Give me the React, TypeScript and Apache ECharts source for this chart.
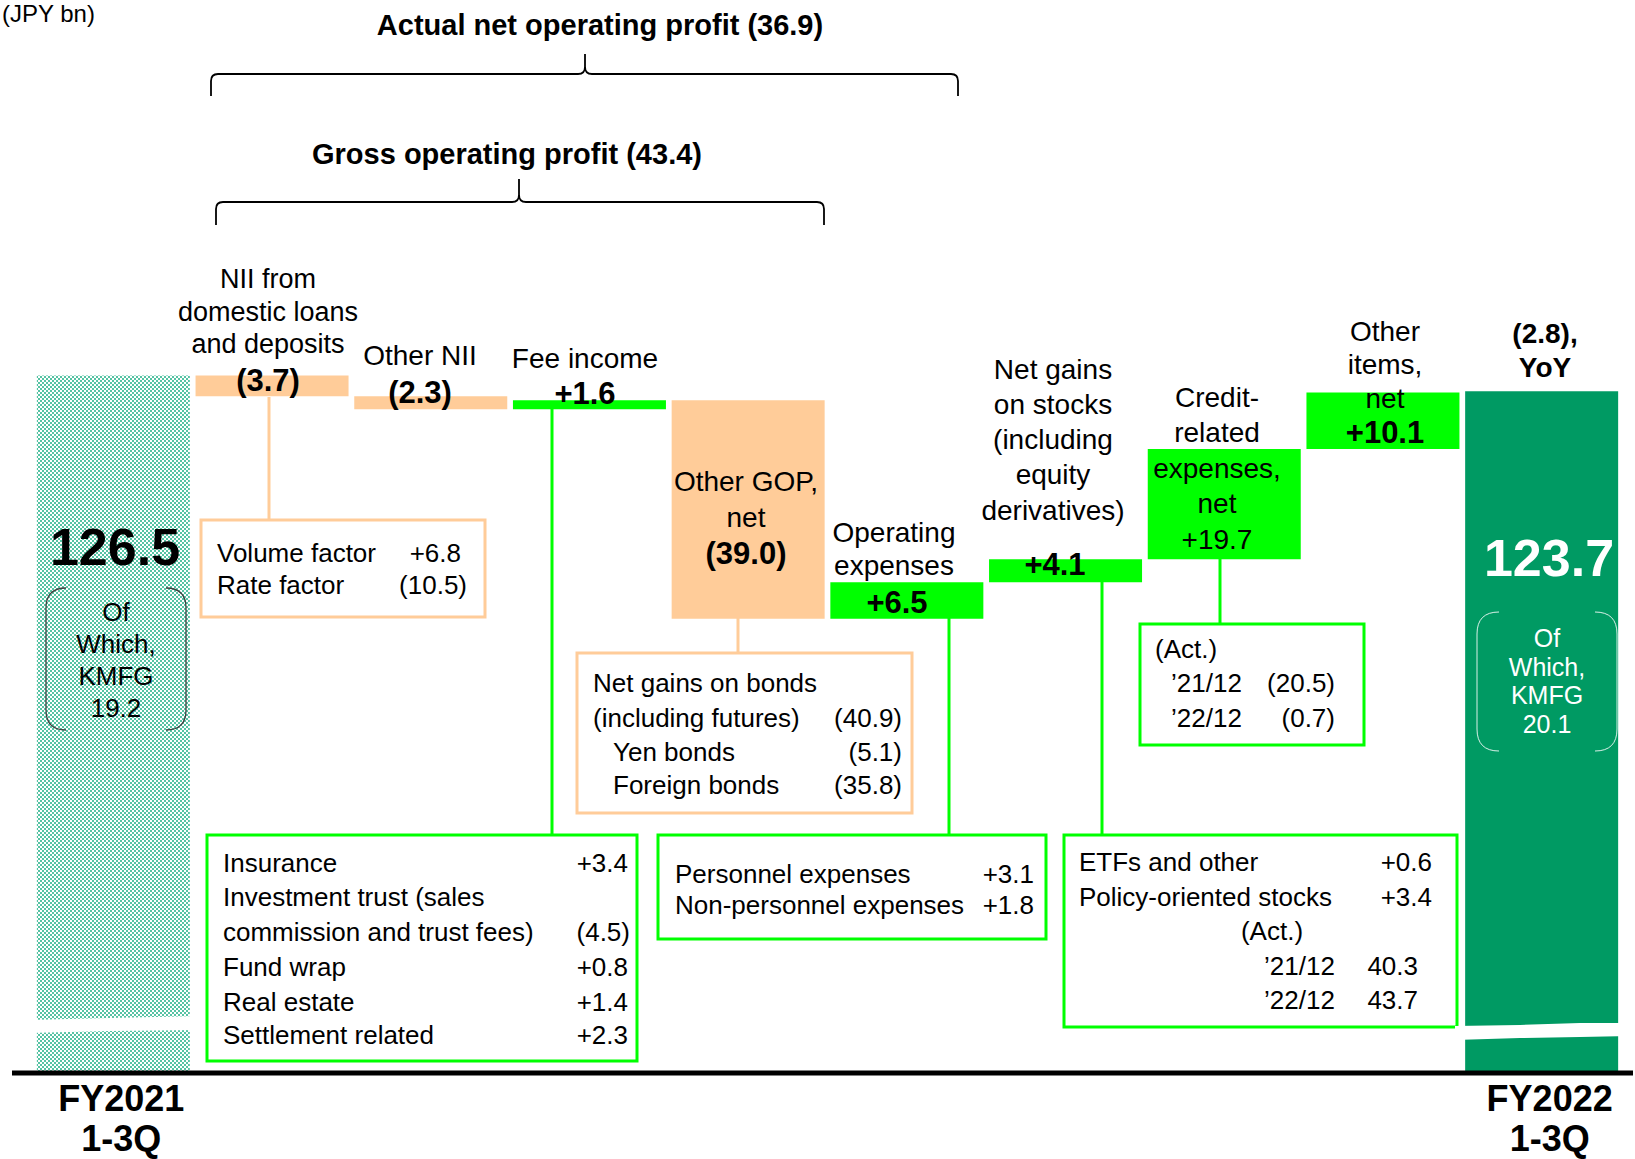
import React, { useEffect, useRef } from 'react';
import * as echarts from 'echarts';

const categories = [
  'FY2021 1-3Q',
  'NII from domestic loans and deposits',
  'Other NII',
  'Fee income',
  'Other GOP, net',
  'Operating expenses',
  'Net gains on stocks (including equity derivatives)',
  'Credit-related expenses, net',
  'Other items, net',
  'FY2022 1-3Q',
];
const startValue = 126.5;
const endValue = 123.7;
const changes = [-3.7, -2.3, 1.6, -39.0, 6.5, 4.1, 19.7, 10.1];
const tickLabels = ['FY2021\n1-3Q', '', '', '', '', '', '', '', '', 'FY2022\n1-3Q'];

const FONT = '"Liberation Sans", Arial, Helvetica, sans-serif';
const PEACH = '#FFCC99';
const GREEN = '#00FF00';
const DARK = '#009A63';

function T(text: string, x: number, y: number, o: any = {}) {
  const { size = 26, weight = 'normal', color = '#000', align = 'left', lh } = o;
  return {
    type: 'text',
    x,
    y,
    z: 100,
    silent: true,
    style: {
      text,
      fontSize: size,
      fontWeight: weight,
      fontFamily: FONT,
      fill: color,
      align,
      verticalAlign: 'middle',
      textAlign: align,
      textVerticalAlign: 'middle',
      lineHeight: lh ?? Math.round(size * 1.2),
    },
  };
}
function L(x1: number, y1: number, x2: number, y2: number, stroke: string, w = 3) {
  return { type: 'line', z: 90, silent: true, shape: { x1, y1, x2, y2 }, style: { stroke, lineWidth: w } };
}
function Q(x1: number, y1: number, cx: number, cy: number, x2: number, y2: number, stroke: string, w = 2) {
  return {
    type: 'bezierCurve',
    z: 90,
    silent: true,
    shape: { x1, y1, x2, y2, cpx1: cx, cpy1: cy },
    style: { stroke, lineWidth: w, fill: 'none' },
  };
}
function R(x: number, y: number, width: number, height: number, stroke: string) {
  return {
    type: 'rect',
    z: 90,
    silent: true,
    shape: { x, y, width, height },
    style: { stroke, lineWidth: 3, fill: 'none' },
  };
}
function brace(xL: number, xR: number, xC: number, yLine: number, yEnd: number, yPeak: number) {
  const r = 7;
  const s = '#000';
  return [
    L(xL, yEnd, xL, yLine + r, s, 1.8),
    Q(xL, yLine + r, xL, yLine, xL + r, yLine, s, 1.8),
    L(xL + r, yLine, xC - r, yLine, s, 1.8),
    Q(xC - r, yLine, xC, yLine, xC, yLine - r, s, 1.8),
    Q(xC + r, yLine, xC, yLine, xC, yLine - r, s, 1.8),
    L(xC, yLine - r, xC, yPeak, s, 1.8),
    L(xC + r, yLine, xR - r, yLine, s, 1.8),
    Q(xR - r, yLine, xR, yLine, xR, yLine + r, s, 1.8),
    L(xR, yLine + r, xR, yEnd, s, 1.8),
  ];
}
function dbracket(x0: number, y0: number, x1: number, y1: number, r: number, s: string, w = 1.3) {
  return [
    Q(x0 + r, y0, x0, y0, x0, y0 + r, s, w),
    L(x0, y0 + r, x0, y1 - r, s, w),
    Q(x0, y1 - r, x0, y1, x0 + r, y1, s, w),
    Q(x1 - r, y0, x1, y0, x1, y0 + r, s, w),
    L(x1, y0 + r, x1, y1 - r, s, w),
    Q(x1, y1 - r, x1, y1, x1 - r, y1, s, w),
  ];
}

export default function App() {
  const ref = useRef<HTMLDivElement>(null);
  useEffect(() => {
    if (!ref.current) return;
    const chart = echarts.init(ref.current, null, { renderer: 'svg' });

    const cv = document.createElement('canvas');
    cv.width = 4;
    cv.height = 4;
    const ctx = cv.getContext('2d')!;
    ctx.fillStyle = '#ffffff';
    ctx.fillRect(0, 0, 4, 4);
    ctx.fillStyle = '#55C3A3';
    ctx.fillRect(0, 0, 2, 2);
    ctx.fillRect(2, 2, 2, 2);
    const pattern: any = { image: cv, repeat: 'repeat', imageWidth: 4, imageHeight: 4 };

    const base: number[] = [0];
    const heights: any[] = [{ value: startValue, itemStyle: { color: pattern } }];
    let run = startValue;
    changes.forEach((c) => {
      const next = run + c;
      base.push(+Math.min(run, next).toFixed(2));
      heights.push({ value: Math.abs(c), itemStyle: { color: c < 0 ? PEACH : GREEN } });
      run = next;
    });
    base.push(0);
    heights.push({ value: endValue, itemStyle: { color: DARK } });

    const graphic: any[] = [
      T('(JPY bn)', 2, 13, { size: 24, align: 'left' }),
      T('Actual net operating profit (36.9)', 600, 25, { size: 29, weight: 'bold', align: 'center' }),
      ...brace(211, 958, 585, 74, 96, 54),
      T('Gross operating profit (43.4)', 507, 154, { size: 29, weight: 'bold', align: 'center' }),
      ...brace(216, 824, 519, 202, 225, 179),

      // bar labels
      T('NII from\ndomestic loans\nand deposits', 268, 311.5, { size: 27, align: 'center', lh: 32.5 }),
      T('(3.7)', 268, 380, { size: 31, weight: 'bold', align: 'center' }),
      T('Other NII', 420, 355, { size: 28, align: 'center' }),
      T('(2.3)', 420, 392, { size: 31, weight: 'bold', align: 'center' }),
      T('Fee income', 585, 358, { size: 28, align: 'center' }),
      T('+1.6', 585, 393, { size: 31, weight: 'bold', align: 'center' }),
      T('Other GOP,\nnet', 746, 499, { size: 28, align: 'center', lh: 36 }),
      T('(39.0)', 746, 553, { size: 31, weight: 'bold', align: 'center' }),
      T('Operating\nexpenses', 894, 548.5, { size: 28, align: 'center', lh: 33 }),
      T('+6.5', 897, 602, { size: 31, weight: 'bold', align: 'center' }),
      T('Net gains\non stocks\n(including\nequity\nderivatives)', 1053, 439.5, { size: 28, align: 'center', lh: 35.25 }),
      T('+4.1', 1055, 564, { size: 31, weight: 'bold', align: 'center' }),
      T('Credit-\nrelated\nexpenses,\nnet\n+19.7', 1217, 468, { size: 28, align: 'center', lh: 35.5 }),
      T('Other\nitems,\nnet', 1385, 364.5, { size: 28, align: 'center', lh: 33.5 }),
      T('+10.1', 1385, 432, { size: 31, weight: 'bold', align: 'center' }),
      T('(2.8),\nYoY', 1545, 350, { size: 28, weight: 'bold', align: 'center', lh: 34 }),

      // totals
      T('126.5', 115, 547, { size: 52, weight: 'bold', align: 'center' }),
      ...dbracket(46, 588, 186, 730, 20, '#404040'),
      T('Of\nWhich,\nKMFG\n19.2', 116, 660, { size: 26, align: 'center', lh: 31.7 }),
      T('123.7', 1549, 558, { size: 52, weight: 'bold', align: 'center', color: '#fff' }),
      ...dbracket(1477, 612, 1617, 751, 22, 'rgba(255,255,255,0.85)', 1),
      T('Of\nWhich,\nKMFG\n20.1', 1547, 681, { size: 25, align: 'center', lh: 28.5, color: '#fff' }),

      // connectors
      L(269, 397, 269, 520, PEACH),
      L(552, 408, 552, 835, GREEN),
      L(738, 618, 738, 653, PEACH),
      L(949, 618, 949, 835, GREEN),
      L(1102, 580, 1102, 835, GREEN),
      L(1220, 558, 1220, 624, GREEN),

      // box A
      R(201, 520, 284, 97, PEACH),
      T('Volume factor', 217, 553),
      T('+6.8', 461, 553, { align: 'right' }),
      T('Rate factor', 217, 585),
      T('(10.5)', 467, 585, { align: 'right' }),

      // box B
      R(577, 653, 335, 160, PEACH),
      T('Net gains on bonds', 593, 683),
      T('(including futures)', 593, 718),
      T('(40.9)', 902, 718, { align: 'right' }),
      T('Yen bonds', 613, 752),
      T('(5.1)', 902, 752, { align: 'right' }),
      T('Foreign bonds', 613, 785),
      T('(35.8)', 902, 785, { align: 'right' }),

      // box C
      R(207, 835, 430, 226, GREEN),
      T('Insurance', 223, 863),
      T('+3.4', 628, 863, { align: 'right' }),
      T('Investment trust (sales', 223, 897),
      T('commission and trust fees)', 223, 932),
      T('(4.5)', 630, 932, { align: 'right' }),
      T('Fund wrap', 223, 967),
      T('+0.8', 628, 967, { align: 'right' }),
      T('Real estate', 223, 1002),
      T('+1.4', 628, 1002, { align: 'right' }),
      T('Settlement related', 223, 1035),
      T('+2.3', 628, 1035, { align: 'right' }),

      // box D
      R(658, 835, 388, 104, GREEN),
      T('Personnel expenses', 675, 874),
      T('+3.1', 1034, 874, { align: 'right' }),
      T('Non-personnel expenses', 675, 905),
      T('+1.8', 1034, 905, { align: 'right' }),

      // box E
      R(1064, 835, 393, 192, GREEN),
      T('ETFs and other', 1079, 862),
      T('+0.6', 1432, 862, { align: 'right' }),
      T('Policy-oriented stocks', 1079, 897),
      T('+3.4', 1432, 897, { align: 'right' }),
      T('(Act.)', 1272, 931, { align: 'center' }),
      T('\u201921/12', 1264, 966),
      T('40.3', 1418, 966, { align: 'right' }),
      T('\u201922/12', 1264, 1000),
      T('43.7', 1418, 1000, { align: 'right' }),

      // box F
      R(1140, 624, 224, 121, GREEN),
      T('(Act.)', 1155, 649),
      T('\u201921/12', 1171, 683),
      T('(20.5)', 1335, 683, { align: 'right' }),
      T('\u201922/12', 1171, 718),
      T('(0.7)', 1335, 718, { align: 'right' }),

      // breaks
      {
        type: 'polygon',
        z: 95,
        silent: true,
        shape: { points: [[28, 1020], [110, 1018], [200, 1016], [200, 1030], [110, 1031], [28, 1033]] },
        style: { fill: '#ffffff' },
      },
      {
        type: 'polygon',
        z: 95,
        silent: true,
        shape: { points: [[1455, 1026], [1520, 1025], [1580, 1023], [1630, 1023], [1630, 1036], [1580, 1037], [1520, 1038], [1455, 1040]] },
        style: { fill: '#ffffff' },
      },
      L(12, 1073, 1633, 1073, '#000', 5),
    ];

    const option: any = {
      animation: false,
      backgroundColor: '#ffffff',
      grid: { left: 34, right: 14, top: 356, bottom: 86, containLabel: false, outerBoundsMode: 'none' },
      xAxis: {
        type: 'category',
        data: categories,
        axisLine: { show: false },
        axisTick: { show: false },
        splitLine: { show: false },
        axisLabel: {
          interval: 0,
          margin: 5,
          formatter: (_v: string, i: number) => tickLabels[i],
          fontSize: 36,
          fontWeight: 'bold',
          fontFamily: FONT,
          color: '#000',
          lineHeight: 40,
          padding: [0, 0, 0, 16],
        },
      },
      yAxis: { type: 'value', min: 2, max: 130, show: false, splitLine: { show: false } },
      series: [
        {
          type: 'bar',
          stack: 'w',
          data: base,
          barWidth: 153,
          clip: true,
          itemStyle: { color: 'rgba(0,0,0,0)' },
          silent: true,
        },
        {
          type: 'bar',
          stack: 'w',
          data: heights,
          barWidth: 153,
          clip: true,
        },
      ],
      graphic,
    };
    chart.setOption(option);
    return () => chart.dispose();
  }, []);
  return <div ref={ref} style={{ position: 'absolute', left: 0, top: 0, width: 1635, height: 1159 }} />;
}
